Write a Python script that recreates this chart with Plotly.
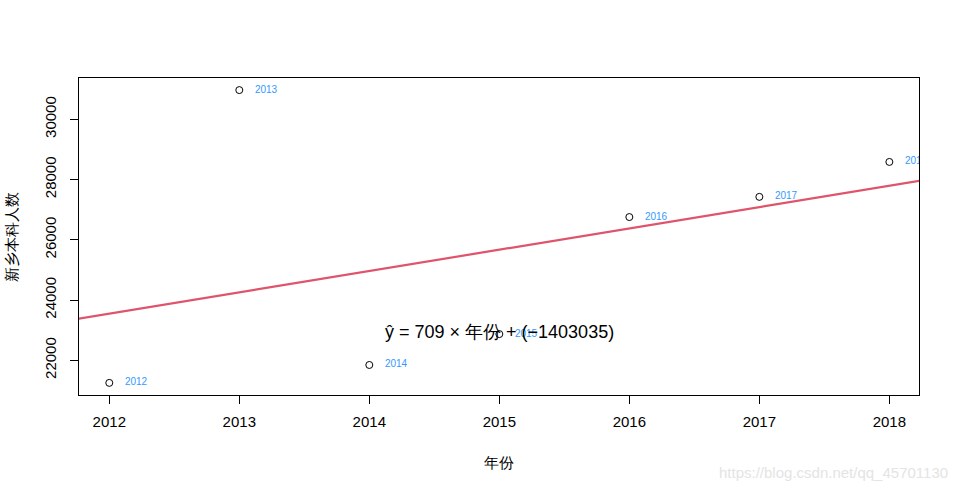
import numpy as np
import plotly.graph_objects as go

years = [2012, 2013, 2014, 2015, 2016, 2017, 2018]
students = [21250, 30970, 21845, 22870, 26755, 27425, 28585]
labels = [str(y) for y in years]
y_ticks = [22000, 24000, 26000, 28000, 30000]
y_tick_text = [str(v) for v in y_ticks]

slope, intercept = np.polyfit(years, students, 1)
x_line = [2011.5, 2018.5]
y_line = [slope * x + intercept for x in x_line]

fig = go.Figure()
fig.add_trace(go.Scatter(
    x=x_line, y=y_line, mode="lines",
    line=dict(color="#DF536B", width=2.2), hoverinfo="skip"))
fig.add_trace(go.Scatter(
    x=years, y=students, mode="markers",
    marker=dict(symbol="circle-open", size=7, color="black", line=dict(width=1, color="black"))))
fig.add_trace(go.Scatter(
    x=[y + 0.12 for y in years], y=students, mode="text", text=labels,
    textposition="middle right",
    textfont=dict(family="Liberation Sans, Arial", size=10, color="#3399FF")))

fig.add_annotation(x=2015, y=22930, xref="x", yref="y", showarrow=False,
                   text="ŷ = 709 × 年份 + (−1403035)",
                   font=dict(family="Liberation Sans, Arial", size=18, color="black"))
fig.add_annotation(x=1.037, y=-0.246, xref="paper", yref="paper", showarrow=False,
                   xanchor="right", yanchor="middle",
                   text="https://blog.csdn.net/qq_45701130",
                   font=dict(family="Liberation Sans, Arial", size=15, color="#E4E4E4"))

fig.update_layout(
    width=960, height=493, showlegend=False,
    plot_bgcolor="white", paper_bgcolor="white",
    margin=dict(l=79, r=41, t=78, b=98),
    font=dict(family="Liberation Sans, Arial", size=15, color="black"),
    xaxis=dict(range=[2011.767, 2018.228], tickvals=years, ticktext=labels,
               showgrid=False, zeroline=False, showline=True, mirror=True,
               linecolor="black", linewidth=1, ticks="outside", ticklen=8,
               tickcolor="black", ticklabelstandoff=5,
               title=dict(text="年份", standoff=28, font=dict(size=15))),
    yaxis=dict(range=[20848, 31371], tickvals=y_ticks, ticktext=y_tick_text,
               showgrid=False, zeroline=False, showline=True, mirror=True,
               linecolor="black", linewidth=1, ticks="outside", ticklen=8,
               tickcolor="black", tickangle=-90, ticklabelstandoff=8,
               title=dict(text="新乡本科人数", standoff=20, font=dict(size=15))),
)

fig.write_html("out.html")
